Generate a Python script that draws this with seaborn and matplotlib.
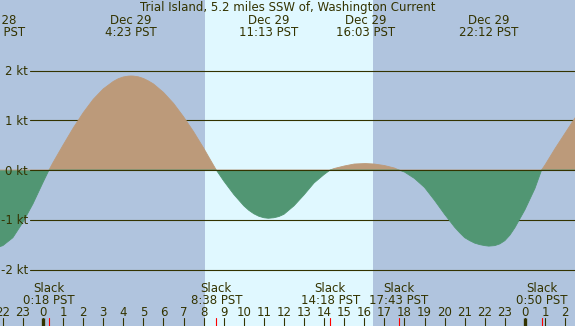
import matplotlib
matplotlib.use("Agg")
import matplotlib.pyplot as plt
import pandas as pd
import seaborn as sns

TITLE = "Trial Island, 5.2 miles SSW of, Washington Current"

# current speed (kt), hours from midnight Dec 29 (PST)
hours = [-2.5, -2.37, -2.0, -1.5, -1.0, -0.5, 0.0, 0.30, 0.5, 1.0, 1.5, 2.0,
         2.5, 3.0, 3.5, 3.75, 4.0, 4.25, 4.38, 4.5, 4.75, 5.0, 5.25, 5.5,
         6.0, 6.5, 7.0, 7.5, 8.0, 8.5, 8.63, 9.0, 9.5, 10.0, 10.25, 10.5,
         10.75, 11.0, 11.22, 11.5, 11.75, 12.0, 12.5, 13.0, 13.5, 14.0,
         14.30, 14.5, 15.0, 15.5, 16.05, 16.5, 17.0, 17.5, 17.72, 18.0, 18.5,
         19.0, 19.5, 20.0, 20.5, 20.75, 21.0, 21.25, 21.5, 21.75, 22.0, 22.2,
         22.5, 22.75, 23.0, 23.25, 23.5, 24.0, 24.5, 24.83, 25.0, 25.5, 26.0,
         26.5, 27.0]
speed = [-1.57, -1.57, -1.52, -1.36, -1.05, -0.68, -0.25, 0.0, 0.15, 0.50,
         0.84, 1.15, 1.42, 1.63, 1.78, 1.835, 1.87, 1.887, 1.89, 1.888,
         1.873, 1.84, 1.79, 1.73, 1.56, 1.34, 1.07, 0.77, 0.44, 0.09, 0.0,
         -0.22, -0.49, -0.72, -0.81, -0.88, -0.93, -0.96, -0.97, -0.96,
         -0.935, -0.89, -0.72, -0.50, -0.26, -0.09, 0.0, 0.03, 0.08, 0.12,
         0.13, 0.12, 0.09, 0.04, 0.0, -0.04, -0.17, -0.35, -0.61, -0.89,
         -1.15, -1.26, -1.36, -1.42, -1.47, -1.50, -1.52, -1.53, -1.52,
         -1.485, -1.42, -1.31, -1.16, -0.80, -0.37, 0.0, 0.10, 0.43, 0.74,
         1.05, 1.30]

max_hours = [-2.37, 4.38, 11.22, 16.05, 22.20]
max_dates = ["Dec 28", "Dec 29", "Dec 29", "Dec 29", "Dec 29"]
max_times = ["21:38 PST", "4:23 PST", "11:13 PST", "16:03 PST", "22:12 PST"]

slack_hours = [0.30, 8.63, 14.30, 17.72, 24.83]
slack_times = ["0:18 PST", "8:38 PST", "14:18 PST", "17:43 PST", "0:50 PST"]

grid_levels = [2, 1, 0, -1, -2]
grid_labels = ["2 kt", "1 kt", "0 kt", "-1 kt", "-2 kt"]

hour_ticks = list(range(-2, 27))
hour_labels = [str(h % 24) for h in hour_ticks]
midnights = [0, 24]

sunrise, sunset = 8.07, 16.45

NIGHT = "#b0c4de"
DAY = "#e0f8ff"
FLOOD = "#bc9a7a"
EBB = "#519673"
INK = "#333300"
FS = 8.5

# pixel geometry of the 575x326 picture
W, H = 575, 326
X0, PX_HR = 43.0, 20.08
Y0, PX_KT = 170.0, 49.75


def yfrac(px):
    return 1 - px / H


def main() -> None:
    sns.set_theme(style="white")
    plt.rcParams["font.family"] = ["DejaVu Sans"]

    df = pd.DataFrame({"hour": hours, "speed": speed})
    df["flood"] = df["speed"].clip(lower=0)
    df["ebb"] = df["speed"].clip(upper=0)

    fig = plt.figure(figsize=(W / 100, H / 100), dpi=100)
    ax = fig.add_axes([0, 0, 1, 1])
    ax.set_xlim(-X0 / PX_HR, (W - X0) / PX_HR)
    ax.set_ylim(-(H - Y0) / PX_KT, Y0 / PX_KT)
    ax.set_facecolor(NIGHT)
    ax.axvspan(sunrise, sunset, color=DAY, lw=0, zorder=0)
    for s in ax.spines.values():
        s.set_visible(False)
    ax.set_xticks([])
    ax.set_yticks([])

    ytr = ax.get_yaxis_transform()
    xtr = ax.get_xaxis_transform()

    # horizontal guide lines and their labels
    for lev, lab in zip(grid_levels, grid_labels):
        ax.plot([30 / W, 1], [lev, lev], transform=ytr, color=INK, lw=0.8,
                zorder=3 if lev == 0 else 1)
        ypx = Y0 - lev * PX_KT
        ax.text(28 / W, yfrac(ypx + 4.6), lab, transform=ax.transAxes,
                ha="right", va="baseline", fontsize=FS, color=INK)

    ax.fill_between(df["hour"], df["speed"], 0, where=df["speed"] >= 0,
                    interpolate=True, color=FLOOD, lw=0, zorder=2)
    ax.fill_between(df["hour"], df["speed"], 0, where=df["speed"] <= 0,
                    interpolate=True, color=EBB, lw=0, zorder=2)
    sns.lineplot(data=df, x="hour", y="flood", color=FLOOD, lw=0.6, ax=ax,
                 zorder=2)
    sns.lineplot(data=df, x="hour", y="ebb", color=EBB, lw=0.6, ax=ax,
                 zorder=2)
    ax.set_xlabel("")
    ax.set_ylabel("")

    # title and max-current labels
    ax.text(0.5, yfrac(11), TITLE, transform=ax.transAxes, ha="center",
            va="baseline", fontsize=FS, color=INK)
    for h, d, t in zip(max_hours, max_dates, max_times):
        ax.text(h, yfrac(24), d, transform=xtr, ha="center", va="baseline",
                fontsize=FS, color=INK, zorder=4)
        ax.text(h, yfrac(36), t, transform=xtr, ha="center", va="baseline",
                fontsize=FS, color=INK, zorder=4)

    # slack labels
    for h, t in zip(slack_hours, slack_times):
        ax.text(h, yfrac(292.3), "Slack", transform=xtr, ha="center",
                va="baseline", fontsize=FS, color=INK, zorder=4)
        ax.text(h, yfrac(304.3), t, transform=xtr, ha="center",
                va="baseline", fontsize=FS, color=INK, zorder=4)

    # hour ticks along the bottom
    tick_top = 8 / H
    for h, lab in zip(hour_ticks, hour_labels):
        ax.text(h, yfrac(315.7), lab, transform=xtr, ha="center",
                va="baseline", fontsize=FS, color=INK, zorder=4)
        ax.plot([h, h], [0, tick_top], transform=xtr, color=INK, lw=0.8,
                zorder=4)
    for h in midnights:
        ax.plot([h, h], [0, tick_top], transform=xtr, color=INK, lw=2.4,
                solid_capstyle="butt", zorder=4)
    for h in slack_hours:
        ax.plot([h, h], [0, tick_top], transform=xtr, color="red", lw=0.8,
                zorder=4)

    fig.savefig("out.png", dpi=100)
    plt.close(fig)


if __name__ == "__main__":
    main()
